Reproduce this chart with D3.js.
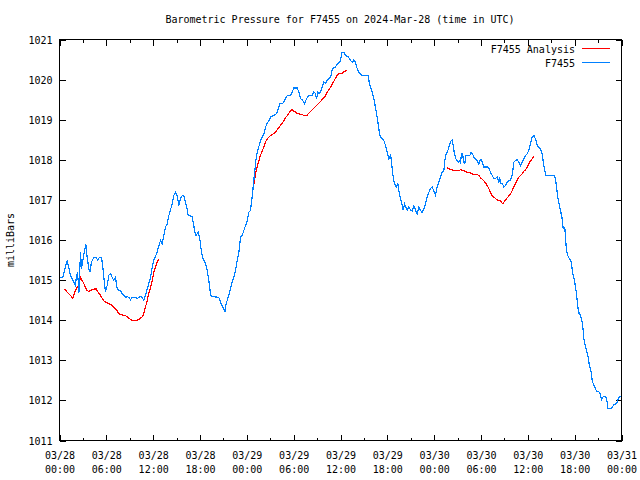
<!DOCTYPE html>
<html>
<head>
<meta charset="utf-8">
<script src="https://cdn.jsdelivr.net/npm/d3@7"></script>
<style>
  html, body { margin: 0; padding: 0; background: #fff; }
  svg { display: block; }
  text { font-family: "DejaVu Sans Mono", "Liberation Mono", monospace; font-size: 10px; fill: #000; }
</style>
</head>
<body>
<svg id="chart" width="640" height="480"></svg>
<script>
// ---- Data (hours since 2024-03-28 00:00 UTC, pressure in milliBars) ----
const stationHours = [0.1,0.43,0.98,1.41,1.84,2.05,2.18,2.31,2.39,2.48,2.69,2.82,2.99,3.25,3.37,3.54,3.76,3.89,4.10,4.40,4.70,4.91,5.12,5.38,5.55,5.77,5.89,6.11,6.32,6.53,6.75,6.96,7.17,7.39,7.60,7.81,8.03,8.24,8.46,8.67,8.88,9.10,9.31,9.74,9.95,10.16,10.38,10.59,10.80,11.02,11.23,11.44,11.66,11.87,12.09,12.30,12.51,12.73,12.94,13.15,13.37,13.58,13.79,14.01,14.22,14.43,14.65,14.86,15.07,15.29,15.50,15.72,15.93,16.14,16.36,16.48,17.00,17.12,17.34,17.51,17.76,17.94,18.06,18.19,18.41,18.70,18.92,19.13,19.26,19.43,20.41,20.63,21.05,21.18,21.35,21.61,21.91,22.12,22.33,22.55,22.76,22.98,23.19,23.40,23.62,23.83,
  24.0,24.26,24.47,24.68,24.81,24.98,25.11,25.24,25.41,25.58,25.75,25.97,26.18,26.39,26.60,26.82,27.12,27.46,27.80,27.97,28.23,28.53,28.74,28.95,29.17,29.59,29.81,30.02,30.45,30.66,30.88,31.09,31.39,31.64,31.94,32.37,32.58,32.80,32.93,33.10,33.27,33.44,33.65,33.86,34.08,34.29,34.51,34.72,34.93,35.15,35.36,35.57,35.91,36.09,36.21,36.43,36.64,36.94,37.28,37.50,37.71,37.92,38.14,38.35,38.56,38.78,39.55,39.67,39.84,40.06,40.27,40.48,40.70,40.91,41.04,41.13,41.34,41.55,41.77,41.98,42.19,42.41,42.53,42.62,42.75,42.92,43.17,43.35,43.47,43.60,43.82,44.03,44.20,44.37,44.54,44.75,44.97,45.18,45.40,45.61,45.82,46.04,46.25,46.46,46.68,46.89,47.10,47.32,47.53,47.74,47.96,48.17,48.38,48.60,48.81,
  49.02,49.24,49.37,49.54,49.75,49.96,50.18,50.31,50.43,50.60,50.78,50.95,51.16,51.29,51.37,51.50,51.63,51.80,51.93,52.06,52.31,52.57,52.74,52.91,53.08,53.30,53.51,53.72,53.85,54.02,54.19,54.36,54.79,55.05,55.22,55.43,55.64,55.86,56.07,56.28,56.41,56.58,56.75,56.93,57.14,57.35,57.57,57.78,57.99,58.21,58.42,58.63,58.85,59.06,59.27,59.49,59.70,59.91,60.13,60.34,60.55,60.77,60.98,61.20,61.41,61.62,61.84,61.96,62.13,62.31,63.33,63.54,63.67,63.84,63.97,64.18,64.40,
  64.44,64.53,64.74,64.87,64.95,65.12,65.34,65.55,65.68,65.81,65.98,66.11,66.24,66.32,66.45,66.58,66.75,66.96,67.09,67.17,67.35,67.52,67.69,67.82,67.94,68.11,68.24,68.46,68.67,68.80,69.10,69.31,69.44,69.57,69.82,69.99,70.16,70.25,70.68,70.80,71.02,71.23,71.45,71.57,71.79,71.95];
const stationMb = [1015.07,1015.07,1015.49,1015.12,1014.95,1014.87,1015.12,1015.17,1014.99,1014.67,1015.70,1015.28,1015.49,1015.78,1015.89,1015.57,1015.28,1015.20,1015.45,1015.57,1015.57,1015.49,1015.57,1015.57,1015.32,1014.91,1014.70,1014.87,1015.12,1015.16,1015.07,1014.99,1015.07,1014.78,1014.74,1014.74,1014.66,1014.62,1014.57,1014.59,1014.57,1014.51,1014.57,1014.57,1014.53,1014.57,1014.59,1014.57,1014.49,1014.62,1014.78,1014.91,1015.07,1015.32,1015.51,1015.59,1015.70,1015.86,1015.99,1015.90,1016.11,1016.32,1016.40,1016.61,1016.75,1016.90,1017.11,1017.19,1017.11,1016.86,1017.03,1017.11,1017.09,1016.94,1016.78,1016.61,1016.59,1016.45,1016.20,1016.11,1016.20,1016.07,1015.90,1015.70,1015.53,1015.41,1015.24,1014.99,1014.78,1014.59,1014.57,1014.45,1014.28,1014.20,1014.41,1014.57,1014.78,1014.95,1015.07,1015.24,1015.49,1015.70,1016.07,1016.11,1016.24,1016.36,
  1016.45,1016.69,1016.74,1017.07,1017.32,1017.65,1017.90,1018.11,1018.23,1018.36,1018.48,1018.57,1018.65,1018.81,1018.91,1018.98,1019.08,1019.10,1019.15,1019.23,1019.40,1019.40,1019.44,1019.52,1019.60,1019.60,1019.69,1019.79,1019.79,1019.69,1019.52,1019.50,1019.40,1019.52,1019.60,1019.60,1019.69,1019.65,1019.52,1019.69,1019.65,1019.69,1019.81,1019.94,1019.91,1019.98,1020.02,1020.06,1020.23,1020.31,1020.31,1020.39,1020.43,1020.58,1020.68,1020.68,1020.60,1020.58,1020.48,1020.43,1020.49,1020.43,1020.27,1020.19,1020.14,1020.10,1020.10,1019.94,1019.81,1019.69,1019.52,1019.31,1019.06,1018.77,1018.61,1018.57,1018.52,1018.48,1018.36,1018.19,1018.02,1018.11,1017.98,1017.77,1017.57,1017.40,1017.32,1017.40,1017.23,1017.11,1016.94,1016.74,1016.90,1016.82,1016.74,1016.82,1016.75,1016.72,1016.86,1016.74,1016.65,1016.82,1016.74,1016.69,1016.78,1016.90,1017.07,1017.19,1017.28,1017.32,1017.23,1017.11,1017.32,1017.44,1017.57,
  1017.69,1017.73,1017.98,1018.15,1018.23,1018.36,1018.48,1018.50,1018.36,1018.15,1018.02,1017.98,1017.94,1017.98,1017.90,1018.15,1018.15,1017.94,1017.90,1018.11,1018.11,1018.11,1018.19,1018.15,1018.07,1018.02,1017.98,1017.90,1017.98,1018.00,1017.94,1017.82,1017.82,1017.77,1017.69,1017.61,1017.53,1017.53,1017.57,1017.44,1017.53,1017.40,1017.40,1017.32,1017.36,1017.44,1017.48,1017.50,1017.61,1017.94,1017.98,1018.00,1017.94,1017.86,1017.94,1018.02,1018.11,1018.15,1018.23,1018.40,1018.56,1018.61,1018.52,1018.36,1018.32,1018.27,1018.15,1017.98,1017.77,1017.61,1017.61,1017.53,1017.32,1017.07,1016.94,1016.74,1016.53,
  1016.40,1016.30,1016.30,1015.95,1015.74,1015.61,1015.53,1015.45,1015.28,1015.12,1014.99,1014.82,1014.66,1014.49,1014.28,1014.16,1014.12,1013.95,1013.74,1013.54,1013.37,1013.24,1013.12,1012.95,1012.83,1012.70,1012.50,1012.37,1012.29,1012.23,1012.21,1012.16,1012.00,1012.08,1012.10,1012.08,1011.96,1011.79,1011.79,1011.83,1011.89,1011.90,1011.96,1012.04,1012.10,1012.10];

// Analysis series: three runs separated by null gaps
const analysisHours = [0.68,0.98,1.28,1.62,1.71,1.96,2.26,2.48,2.69,2.90,3.12,3.33,3.54,3.76,4.19,4.53,4.70,4.95,5.25,5.68,5.89,6.32,6.75,7.17,7.39,7.60,8.03,8.46,8.67,9.10,9.31,9.74,10.16,10.59,10.80,11.02,11.23,11.44,11.66,11.87,12.09,12.30,12.51,12.73,
  null,
  24.81,24.98,25.11,25.32,25.54,25.75,25.97,26.18,26.39,26.60,26.82,27.03,27.25,27.46,27.67,27.89,28.10,28.31,28.53,28.74,28.95,29.17,29.38,29.59,29.81,30.02,30.24,30.45,30.66,30.88,31.09,31.30,31.65,31.94,32.37,32.80,33.22,33.65,33.86,34.08,34.29,34.51,34.72,34.93,35.15,35.36,35.57,35.79,36.00,36.21,36.43,36.64,36.77,
  null,
  49.66,50.01,50.31,50.73,51.16,51.37,51.80,52.23,52.65,53.08,53.51,53.72,53.94,54.36,54.58,54.79,55.00,55.22,55.43,55.64,56.07,56.50,56.80,57.01,57.35,57.78,57.99,58.21,58.42,58.63,58.85,59.06,59.27,59.49,59.70,59.91,60.13,60.34,60.55,60.77];
const analysisMb = [1014.78,1014.70,1014.64,1014.57,1014.55,1014.70,1014.82,1014.87,1015.07,1014.99,1014.91,1014.82,1014.74,1014.72,1014.76,1014.78,1014.78,1014.70,1014.62,1014.48,1014.45,1014.41,1014.37,1014.28,1014.23,1014.16,1014.13,1014.12,1014.08,1014.02,1013.99,1013.99,1014.02,1014.08,1014.16,1014.33,1014.49,1014.66,1014.82,1014.99,1015.20,1015.32,1015.45,1015.53,
  null,
  1017.27,1017.48,1017.65,1017.82,1017.98,1018.11,1018.23,1018.31,1018.44,1018.52,1018.56,1018.61,1018.63,1018.66,1018.69,1018.75,1018.80,1018.86,1018.91,1018.98,1019.05,1019.10,1019.16,1019.21,1019.25,1019.21,1019.19,1019.16,1019.15,1019.13,1019.13,1019.10,1019.10,1019.16,1019.25,1019.33,1019.41,1019.50,1019.55,1019.60,1019.69,1019.74,1019.81,1019.89,1019.96,1020.04,1020.10,1020.14,1020.16,1020.16,1020.19,1020.21,1020.23,
  null,
  1017.80,1017.77,1017.75,1017.73,1017.73,1017.75,1017.73,1017.69,1017.67,1017.63,1017.63,1017.61,1017.55,1017.48,1017.42,1017.36,1017.28,1017.19,1017.11,1017.07,1017.00,1016.97,1016.90,1016.97,1017.05,1017.15,1017.23,1017.32,1017.40,1017.50,1017.57,1017.61,1017.65,1017.72,1017.75,1017.82,1017.90,1017.97,1018.02,1018.08];

const yTicks = [1011,1012,1013,1014,1015,1016,1017,1018,1019,1020,1021];
const xTickLabels = [["03/28","00:00"],["03/28","06:00"],["03/28","12:00"],["03/28","18:00"],
  ["03/29","00:00"],["03/29","06:00"],["03/29","12:00"],["03/29","18:00"],
  ["03/30","00:00"],["03/30","06:00"],["03/30","12:00"],["03/30","18:00"],["03/31","00:00"]];
const seriesNames = ["F7455 Analysis","F7455"];
const titleText = "Barometric Pressure for F7455 on 2024-Mar-28 (time in UTC)";
const yTitle = "milliBars";

// ---- Drawing ----
const tStart = Date.UTC(2024,2,28,0,0);
const tEnd = Date.UTC(2024,2,31,0,0);
const HOUR = 3600*1000;
const pLeft = 59.5, pRight = 621.5, pTop = 39.5, pBottom = 440.5;
const svg = d3.select("#chart");

const x = d3.scaleUtc().domain([new Date(tStart), new Date(tEnd)]).range([pLeft, pRight]);
const y = d3.scaleLinear().domain([1011, 1021]).range([pBottom, pTop]);

const majorTicks = d3.range(0, 13).map(i => new Date(tStart + i*6*HOUR));
const minorTicks = d3.range(0, 12).map(i => new Date(tStart + (i*6+3)*HOUR));

function styleAxis(g) {
  g.select(".domain").remove();
  g.selectAll(".tick line").attr("stroke", "#000").attr("stroke-width", 1).attr("shape-rendering", "crispEdges");
}

// Bottom axis (major ticks with labels)
const bottomAx = svg.append("g").attr("transform", `translate(0,${pBottom})`)
  .call(d3.axisBottom(x).tickValues(majorTicks).tickSize(-6).tickFormat(() => ""))
  .call(styleAxis);
bottomAx.selectAll(".tick text").each(function(d, i) {
  const t = d3.select(this).attr("dy", null).attr("y", null);
  t.append("tspan").attr("x", 0).attr("y", 18).text(xTickLabels[i][0]);
  t.append("tspan").attr("x", 0).attr("y", 32).text(xTickLabels[i][1]);
});
svg.append("g").attr("transform", `translate(0,${pBottom})`)
  .call(d3.axisBottom(x).tickValues(minorTicks).tickSize(-3).tickFormat(""))
  .call(styleAxis);
// Top axis (mirror ticks)
svg.append("g").attr("transform", `translate(0,${pTop})`)
  .call(d3.axisTop(x).tickValues(majorTicks).tickSize(-6).tickFormat(""))
  .call(styleAxis);
svg.append("g").attr("transform", `translate(0,${pTop})`)
  .call(d3.axisTop(x).tickValues(minorTicks).tickSize(-3).tickFormat(""))
  .call(styleAxis);
// Left axis
svg.append("g").attr("transform", `translate(${pLeft},0)`)
  .call(d3.axisLeft(y).tickValues(yTicks).tickSize(-6).tickFormat(d3.format("d")))
  .call(styleAxis)
  .selectAll(".tick text").attr("x", -7).attr("dy", "0.35em");
// Right axis (mirror ticks)
svg.append("g").attr("transform", `translate(${pRight},0)`)
  .call(d3.axisRight(y).tickValues(yTicks).tickSize(-6).tickFormat(""))
  .call(styleAxis);

// Frame
svg.append("rect").attr("x", pLeft).attr("y", pTop).attr("width", pRight-pLeft).attr("height", pBottom-pTop)
  .attr("fill", "none").attr("stroke", "#000").attr("stroke-width", 1).attr("shape-rendering", "crispEdges");

// Lines
const stationData = stationHours.map((h,i) => ({t: new Date(tStart + h*HOUR), v: stationMb[i]}));
const analysisData = analysisHours.map((h,i) => ({t: h == null ? null : new Date(tStart + h*HOUR), v: analysisMb[i]}));
const line = d3.line().defined(d => d.t != null && d.v != null).x(d => x(d.t)).y(d => y(d.v));

svg.append("path").datum(analysisData).attr("d", line)
  .attr("fill", "none").attr("stroke", "#ff0000").attr("stroke-width", 1.2).attr("shape-rendering", "crispEdges");
svg.append("path").datum(stationData).attr("d", line)
  .attr("fill", "none").attr("stroke", "#0080ff").attr("stroke-width", 1.2).attr("shape-rendering", "crispEdges");

// Title
svg.append("text").attr("x", 340).attr("y", 23).attr("text-anchor", "middle").text(titleText);
// Y title
svg.append("text").attr("transform", "translate(14,240) rotate(-90)").attr("text-anchor", "middle").text(yTitle);

// Legend
const legColors = ["#ff0000", "#0080ff"];
seriesNames.forEach((name, i) => {
  const ly = 49 + i*14;
  svg.append("text").attr("x", 575).attr("y", ly).attr("dy", "0.35em").attr("text-anchor", "end").text(name);
  svg.append("line").attr("x1", 582).attr("x2", 610).attr("y1", ly - 0.5).attr("y2", ly - 0.5)
    .attr("stroke", legColors[i]).attr("stroke-width", 1).attr("shape-rendering", "crispEdges");
});
</script>
</body>
</html>
